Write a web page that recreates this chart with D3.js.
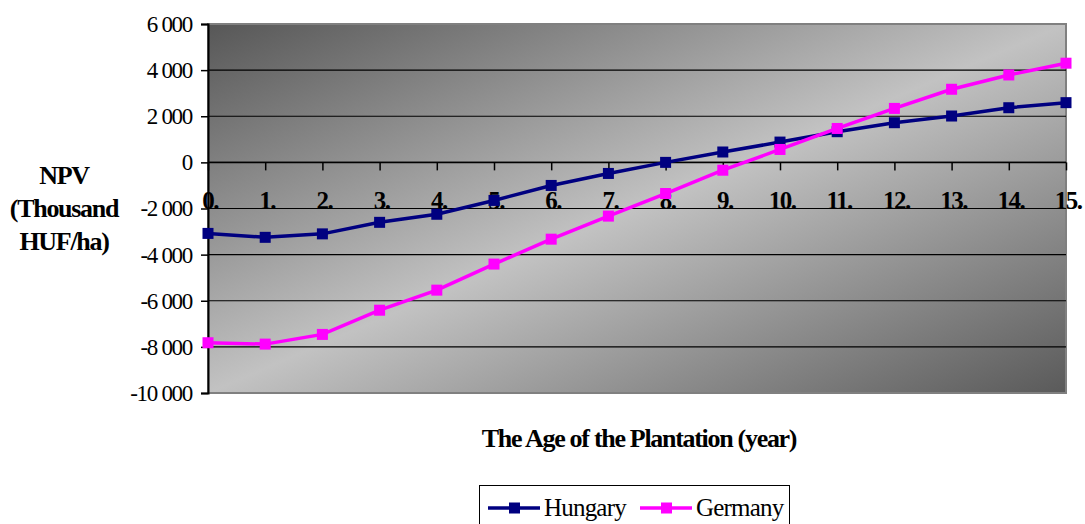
<!DOCTYPE html>
<html>
<head>
<meta charset="utf-8">
<script src="https://cdn.jsdelivr.net/npm/d3@7"></script>
<style>
  body { margin: 0; background: #fff; }
  svg { display: block; font-family: "Liberation Serif", "Times New Roman", serif; }
</style>
</head>
<body>
<div id="chart"></div>
<script>
const years = d3.range(0, 16);
const yearLabels = years.map(d => d + ".");
const hungary = [-3080, -3250, -3100, -2600, -2250, -1650, -1000, -480, 0, 450, 880, 1330, 1720, 2010, 2370, 2590];
const germany = [-7820, -7880, -7460, -6410, -5540, -4410, -3330, -2330, -1350, -340, 560, 1470, 2340, 3170, 3790, 4300];
const yTicks = [6000, 4000, 2000, 0, -2000, -4000, -6000, -8000, -10000];
const seriesNames = ["Hungary", "Germany"];
const seriesColors = ["#000080", "#ff00ff"];

const width = 1085, height = 524;
const plot = { left: 208, right: 1066, top: 24, bottom: 393 };

const svg = d3.select("#chart").append("svg")
    .attr("width", width)
    .attr("height", height);

const x = d3.scaleLinear().domain([0, 15]).range([plot.left, plot.right]);
const y = d3.scaleLinear().domain([-10000, 6000]).range([plot.bottom, plot.top]);

// background gradient
const defs = svg.append("defs");
const grad = defs.append("linearGradient")
    .attr("id", "bg")
    .attr("x1", "0").attr("y1", "0").attr("x2", "1").attr("y2", "1");
grad.append("stop").attr("offset", "0%").attr("stop-color", "#575757");
grad.append("stop").attr("offset", "50%").attr("stop-color", "#c2c2c2");
grad.append("stop").attr("offset", "100%").attr("stop-color", "#5a5a5a");

svg.append("rect")
    .attr("x", plot.left).attr("y", plot.top)
    .attr("width", plot.right - plot.left)
    .attr("height", plot.bottom - plot.top)
    .attr("fill", "url(#bg)")
    .attr("stroke", "#808080")
    .attr("stroke-width", 2);

// gridlines
svg.append("g")
    .selectAll("line")
    .data(yTicks.filter(d => d !== 6000 && d !== -10000))
    .join("line")
    .attr("x1", plot.left).attr("x2", plot.right)
    .attr("y1", d => y(d)).attr("y2", d => y(d))
    .attr("stroke", "#000")
    .attr("stroke-width", 1.2);

// y axis
const yAxis = d3.axisLeft(y)
    .tickValues(yTicks)
    .tickSize(7)
    .tickPadding(9)
    .tickFormat(d => d3.format(",")(d).replace(",", " ").replace("−", "-"));

const yg = svg.append("g")
    .attr("transform", `translate(${plot.left},0)`)
    .call(yAxis);
yg.select(".domain").attr("stroke", "#000").attr("stroke-width", 2);
yg.selectAll(".tick line").attr("stroke", "#000").attr("stroke-width", 1.5);
yg.selectAll(".tick text")
    .attr("fill", "#000")
    .style("font-size", "23px")
    .style("letter-spacing", "-1.3px")
    .style("font-family", "'Liberation Serif', serif");

// x axis on zero line
const xAxis = d3.axisBottom(x)
    .tickValues(years)
    .tickSize(8)
    .tickFormat("");
const xg = svg.append("g")
    .attr("transform", `translate(0,${y(0)})`)
    .call(xAxis);
xg.select(".domain").remove();
xg.selectAll(".tick line").attr("stroke", "#000").attr("stroke-width", 1.5);
svg.append("line")
    .attr("x1", plot.left).attr("x2", plot.right)
    .attr("y1", y(0)).attr("y2", y(0))
    .attr("stroke", "#000").attr("stroke-width", 1.5);

svg.append("g")
    .selectAll("text")
    .data(years)
    .join("text")
    .attr("x", d => x(d) + 2)
    .attr("y", y(0) + 47)
    .attr("text-anchor", "middle")
    .style("font-size", "25px")
    .style("font-weight", "bold")
    .style("letter-spacing", "-1.5px")
    .text((d, i) => yearLabels[i]);

// lines
const line = d3.line()
    .x((d, i) => x(years[i]))
    .y(d => y(d));

[hungary, germany].forEach((data, k) => {
    const g = svg.append("g");
    g.append("path")
        .datum(data)
        .attr("d", line)
        .attr("fill", "none")
        .attr("stroke", seriesColors[k])
        .attr("stroke-width", 3.5);
    g.selectAll("rect")
        .data(data)
        .join("rect")
        .attr("x", (d, i) => x(years[i]) - 5.5)
        .attr("y", d => y(d) - 5.5)
        .attr("width", 11)
        .attr("height", 11)
        .attr("fill", seriesColors[k]);
});

// axis titles
svg.append("text")
    .attr("x", 639)
    .attr("y", 447)
    .attr("text-anchor", "middle")
    .style("font-size", "26px")
    .style("font-weight", "bold")
    .style("letter-spacing", "-1.3px")
    .text("The Age of the Plantation (year)");

const yTitle = ["NPV", "(Thousand", "HUF/ha)"];
svg.append("g")
    .selectAll("text")
    .data(yTitle)
    .join("text")
    .attr("x", 64)
    .attr("y", (d, i) => 184 + i * 33)
    .attr("text-anchor", "middle")
    .style("font-size", "26px")
    .style("font-weight", "bold")
    .style("letter-spacing", "-1.3px")
    .text(d => d);

// legend
const legend = svg.append("g");
legend.append("rect")
    .attr("x", 479.5).attr("y", 485.5)
    .attr("width", 310).attr("height", 45)
    .attr("fill", "#fff")
    .attr("stroke", "#000")
    .attr("stroke-width", 1);

const legendX = [488, 640];
seriesNames.forEach((name, k) => {
    const lx = legendX[k];
    legend.append("line")
        .attr("x1", lx).attr("x2", lx + 52)
        .attr("y1", 508).attr("y2", 508)
        .attr("stroke", seriesColors[k])
        .attr("stroke-width", 3.5);
    legend.append("rect")
        .attr("x", lx + 21).attr("y", 502.5)
        .attr("width", 11).attr("height", 11)
        .attr("fill", seriesColors[k]);
    legend.append("text")
        .attr("x", lx + 56)
        .attr("y", 516)
        .style("font-size", "25px")
        .style("letter-spacing", "-0.8px")
        .text(name);
});
</script>
</body>
</html>
